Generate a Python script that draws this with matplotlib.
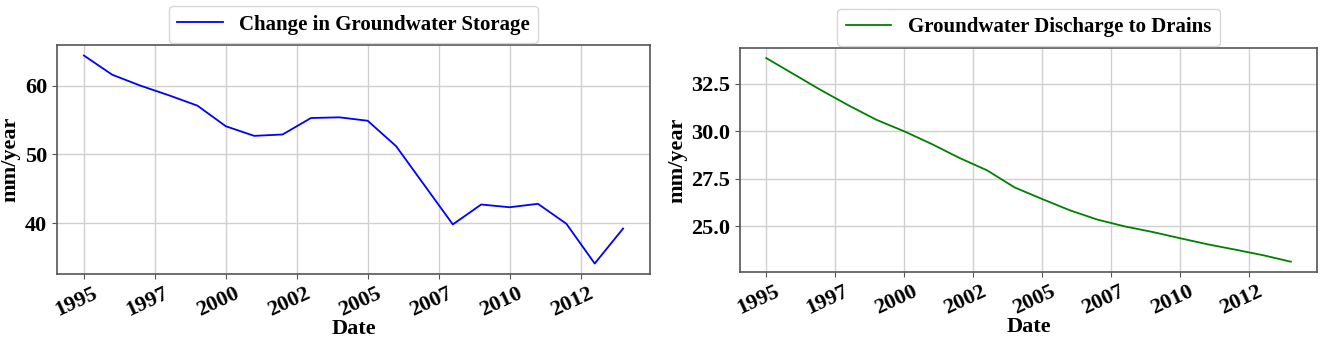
import matplotlib.pyplot as plt
from matplotlib.transforms import ScaledTranslation

# yearly values
years = list(range(1995, 2015))
storage_change = [64.4, 61.6, 60.0, 58.6, 57.1, 54.1, 52.7, 52.9, 55.3, 55.4,
                  54.9, 51.2, 45.5, 39.8, 42.7, 42.3, 42.8, 39.9, 34.1, 39.2]
drain_discharge = [33.85, 33.0, 32.15, 31.35, 30.6, 30.0, 29.33, 28.6, 27.95, 27.05,
                   26.44, 25.85, 25.36, 25.0, 24.71, 24.38, 24.06, 23.78, 23.49, 23.15]

tick_pos = [1995, 1997.5, 2000, 2002.5, 2005, 2007.5, 2010, 2012.5]
tick_labels = ['1995', '1997', '2000', '2002', '2005', '2007', '2010', '2012']

plt.rcParams['font.family'] = ['Liberation Serif', 'DejaVu Serif']
plt.rcParams['font.weight'] = 'bold'

fig = plt.figure(figsize=(13.25, 3.42), dpi=100)
ax1 = fig.add_axes([0.043, 0.199, 0.4476, 0.669])
ax2 = fig.add_axes([0.5585, 0.205, 0.4355, 0.655])

# rotated labels in the reference sit a bit left of their ticks
shift = ScaledTranslation(-8 / 100, 0, fig.dpi_scale_trans)


def style(ax, y, color, label):
    ax.plot(years, y, color=color, linewidth=1.3, label=label)
    ax.set_xticks(tick_pos)
    ax.set_xticklabels(tick_labels, rotation=25, ha='center')
    ax.grid(True, color='#d0d0d0', linewidth=1.0)
    ax.set_axisbelow(True)
    ax.tick_params(labelsize=16, color='#555555')
    for lab in ax.get_xticklabels():
        lab.set_transform(lab.get_transform() + shift)
    for lab in ax.get_xticklabels() + ax.get_yticklabels():
        lab.set_fontweight('bold')
    for sp in ax.spines.values():
        sp.set_color('#555555')
        sp.set_linewidth(1.2)
    ax.set_xlabel('Date', fontsize=16, fontweight='bold', labelpad=-1)
    ax.set_ylabel('mm/year', fontsize=16, fontweight='bold', labelpad=3)
    ax.legend(loc='lower center', bbox_to_anchor=(0.5, 1.01), borderaxespad=0,
              prop={'size': 15, 'weight': 'bold'}, handlelength=2.2)


style(ax1, storage_change, 'blue', 'Change in Groundwater Storage')
style(ax2, drain_discharge, 'green', 'Groundwater Discharge to Drains')
ax1.set_yticks([40, 50, 60])
ax2.set_yticks([25.0, 27.5, 30.0, 32.5])

fig.savefig('out.png', dpi=100)
